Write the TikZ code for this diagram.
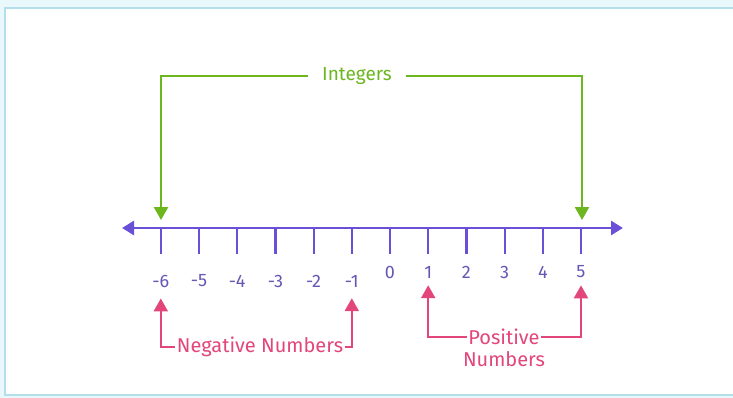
\documentclass[tikz,border=0pt]{standalone}
\usepackage{fontspec}
\setmainfont{Fira Sans}
\usetikzlibrary{arrows.meta,positioning}
\definecolor{linepurple}{RGB}{106,80,214}
\definecolor{labelpurple}{RGB}{100,88,180}
\definecolor{intgreen}{RGB}{108,182,30}
\definecolor{numpink}{RGB}{226,70,122}
\definecolor{framecyan}{RGB}{232,248,251}
\definecolor{frameblue}{RGB}{180,222,236}
\tikzset{
  numline/.style={{Triangle[length=12pt,width=14pt]}-{Triangle[length=12pt,width=14pt]},
    line width=2.6pt,draw=linepurple},
  tickmark/.style={line width=2.2pt,draw=linepurple},
  ticklabel/.style={font=\fontsize{18}{21}\selectfont,text=labelpurple,inner sep=2pt},
  intflow/.style={-{Triangle[length=13pt,width=14pt]},line width=2.4pt,draw=intgreen},
  numflow/.style={-{Triangle[length=13pt,width=14pt]},line width=2.2pt,draw=numpink},
  inttext/.style={font=\fontsize{19}{22}\selectfont,text=intgreen,inner xsep=14pt},
  numtext/.style={font=\fontsize{20}{23}\selectfont,text=numpink,inner xsep=1.5pt,inner ysep=1pt}
}

\begin{document}
\begin{tikzpicture}[x=1pt,y=-1pt]
  \useasboundingbox (0,0) rectangle (733,398);
  \fill[framecyan] (0,0) rectangle (733,398);
  \draw[frameblue,line width=1.6pt,fill=white] (5,8) rectangle (740,395);
  % number line
  \coordinate (lend) at (122,228);
  \coordinate (rend) at (623,228);
  \draw[numline] (lend) -- (rend);
  \foreach \i in {-6,...,5} {
    \coordinate (t\i) at ({390+38.2*\i},228);
    \draw[tickmark] (t\i) -- ++(0,26);
  }
  \foreach \i in {-6,...,-1}
    \node[ticklabel] (l\i) at ({390+38.2*\i},281) {-\the\numexpr-\i\relax};
  \foreach \i in {0,...,5}
    \node[ticklabel] (l\i) at ({390+38.2*\i},272) {\i};
  % integers
  \node[inttext] (integers) at (357,76) {Integers};
  \coordinate (gl) at (161,220);
  \coordinate (gr) at (582,220);
  \draw[intflow] (integers.west) -| (gl);
  \draw[intflow] (integers.east) -| (gr);
  % negative and positive
  \node[numtext] (negative) at (260,347) {Negative Numbers};
  \draw[numflow,shorten >=9pt] (negative.west) -| (l-6.south);
  \draw[numflow,shorten >=9pt] (negative.east) -| (l-1.south);
  \node[numtext] (positive) at (504,337) {Positive};
  \node[numtext,below=4pt of positive] (posnumbers) {Numbers};
  \draw[numflow,shorten >=5pt] (positive.west) -| (l1.south);
  \draw[numflow,shorten >=5pt] (positive.east) -| (l5.south);
\end{tikzpicture}
\end{document}
